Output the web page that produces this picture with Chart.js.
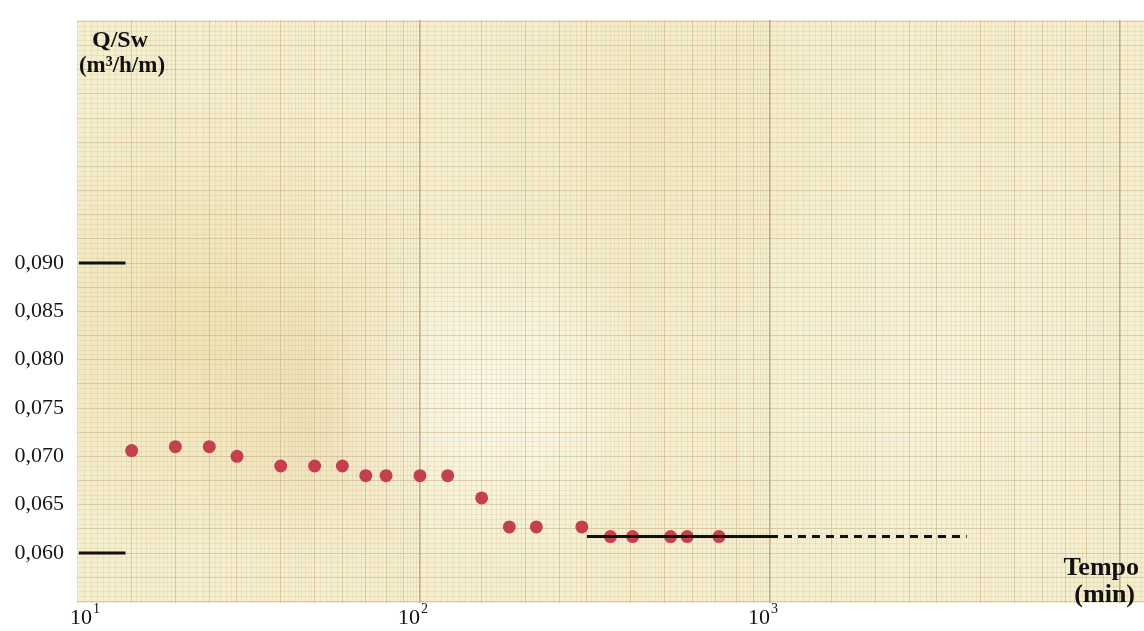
<!DOCTYPE html>
<html lang="pt">
<head>
<meta charset="UTF-8">
<title>Q/Sw x Tempo</title>
<script src="https://cdn.jsdelivr.net/npm/chart.js"></script>
<style>
  html, body { margin: 0; padding: 0; background: #fff; overflow: hidden; }
  .wrap { width: 1144px; height: 631px; }
  canvas { display: block; }
</style>
</head>
<body>
<div class="wrap"><canvas id="grafico" width="1144" height="631"></canvas></div>
<script>
// tempo de bombeamento (min) e vazão específica Q/Sw (m³/h/m)
const tempo = [15, 20, 25, 30, 40, 50, 60, 70, 80, 100, 120, 150, 180, 215, 290, 350, 405, 520, 580, 715];
const vazaoEsp = [0.0706, 0.0710, 0.0710, 0.0700, 0.0690, 0.0690, 0.0690, 0.0680, 0.0680, 0.0680,
                  0.0680, 0.0657, 0.0627, 0.0627, 0.0627, 0.0617, 0.0617, 0.0617, 0.0617, 0.0617];

// reta de estabilização e prolongamento tracejado
const retaTempo = [300, 1000];
const extrapTempo = [1000, 3650];
const retaValor = 0.0617;

// traços de referência na escala vertical
const marcaTempo = [10.6, 14.4];
const marcaValores = [0.090, 0.060];

const yTicks = [0.060, 0.065, 0.070, 0.075, 0.080, 0.085, 0.090];
const xDecadas = [1, 2, 3];

const X_MIN = 10.47, X_MAX = 11715;
const Y_MIN = 0.05483, Y_MAX = 0.11514;

const SERIF = '"Liberation Serif", "Times New Roman", serif';

// linhas do papel monolog
function gradeLog() {
  const out = [];
  for (let e = 1; e <= 4; e++) {
    const base = Math.pow(10, e);
    let m = 100;
    while (m < 1000) {
      const v = base * m / 100;
      let kind = 'fine';
      if (m === 100) kind = 'decade';
      else if (m % 100 === 0 || (m < 300 && m % 50 === 0)) kind = 'mid';
      if (v >= X_MIN && v <= X_MAX) out.push({ value: v, kind });
      m += m < 200 ? 5 : (m < 500 ? 10 : 20);
    }
  }
  return out;
}

function gradeLin() {
  const out = [];
  for (let k = 110; k <= 230; k++) {
    const v = k * 0.0005;
    if (v < Y_MIN || v > Y_MAX) continue;
    out.push({ value: v, kind: k % 5 === 0 ? 'mid' : 'fine' });
  }
  return out;
}

const corGrade = { fine: 'rgba(200,176,128,0.2)', mid: 'rgba(190,160,112,0.45)', decade: 'rgba(175,140,100,0.7)' };
const larguraGrade = { fine: 1, mid: 1, decade: 1.6 };

// sem folgas extras das escalas: a área do gráfico fica onde o layout manda
function semFolga(s) {
  s.paddingTop = 0; s.paddingBottom = 0; s.paddingLeft = 0; s.paddingRight = 0;
}

const papel = {
  id: 'papel',
  beforeDraw(chart) {
    const { ctx, chartArea: a } = chart;
    ctx.save();
    ctx.fillStyle = '#ffffff';
    ctx.fillRect(0, 0, chart.width, chart.height);
    ctx.fillStyle = '#f5efd0';
    ctx.fillRect(a.left, a.top, a.right - a.left, a.bottom - a.top);
    ctx.beginPath();
    ctx.rect(a.left, a.top, a.right - a.left, a.bottom - a.top);
    ctx.clip();
    const manchas = [
      [200, 320, 240, 'rgba(234,214,150,0.5)'],
      [330, 420, 160, 'rgba(230,204,156,0.3)'],
      [490, 400, 170, 'rgba(253,251,240,0.75)'],
      [660, 140, 210, 'rgba(236,218,165,0.3)'],
      [960, 380, 260, 'rgba(251,247,230,0.45)']
    ];
    manchas.forEach(([x, y, r, c]) => {
      const g = ctx.createRadialGradient(x, y, 0, x, y, r);
      g.addColorStop(0, c);
      g.addColorStop(1, c.replace(/[\d.]+\)$/, '0)'));
      ctx.fillStyle = g;
      ctx.fillRect(x - r, y - r, 2 * r, 2 * r);
    });
    ctx.restore();
  },
  afterDraw(chart) {
    const { ctx } = chart;
    const xs = chart.scales.x;
    ctx.save();
    ctx.fillStyle = '#111';
    ctx.textBaseline = 'alphabetic';

    ctx.textAlign = 'center';
    ctx.font = 'bold 24px ' + SERIF;
    ctx.fillText('Q/Sw', 120, 47);
    ctx.font = 'bold 23px ' + SERIF;
    ctx.fillText('(m³/h/m)', 122, 72);

    ctx.textAlign = 'right';
    ctx.font = 'bold 26px ' + SERIF;
    ctx.fillText('Tempo', 1139, 575);
    ctx.fillText('(min)', 1135, 602);

    // rótulos das décadas 10¹, 10², 10³
    xDecadas.forEach((e, i) => {
      const px = xs.getPixelForValue(Math.pow(10, e));
      ctx.font = '22px ' + SERIF;
      const w = ctx.measureText('10').width;
      const left = i === 0 ? px : px - w;
      ctx.textAlign = 'left';
      ctx.fillText('10', left, 624);
      ctx.font = '14px ' + SERIF;
      ctx.fillText(String(e), left + w + 1, 613);
    });
    ctx.restore();
  }
};

const pontos = tempo.map((t, i) => ({ x: t, y: vazaoEsp[i] }));

new Chart(document.getElementById('grafico'), {
  type: 'scatter',
  data: {
    datasets: [
      {
        data: retaTempo.map(t => ({ x: t, y: retaValor })),
        showLine: true, borderColor: '#111', borderWidth: 3, pointRadius: 0, order: 0
      },
      {
        data: extrapTempo.map(t => ({ x: t, y: retaValor })),
        showLine: true, borderColor: '#111', borderWidth: 3, borderDash: [8, 6], pointRadius: 0, order: 0
      },
      ...marcaValores.map(v => ({
        data: marcaTempo.map(t => ({ x: t, y: v })),
        showLine: true, borderColor: '#111', borderWidth: 3, pointRadius: 0, order: 0
      })),
      {
        data: pontos,
        backgroundColor: '#c5404f', borderWidth: 0, pointRadius: 6.5, order: 1
      }
    ]
  },
  options: {
    responsive: false,
    animation: false,
    devicePixelRatio: 1,
    layout: { autoPadding: false, padding: { top: 20, bottom: 28, left: 0, right: 0 } },
    plugins: { legend: { display: false }, tooltip: { enabled: false } },
    scales: {
      x: {
        type: 'logarithmic',
        min: X_MIN, max: X_MAX,
        border: { display: false },
        ticks: { display: false, autoSkip: false },
        grid: {
          drawTicks: false,
          color: c => corGrade[c.tick && c.tick.kind] || corGrade.fine,
          lineWidth: c => larguraGrade[c.tick && c.tick.kind] || 1
        },
        afterBuildTicks: s => { s.ticks = gradeLog(); },
        afterFit: s => { s.height = 0; semFolga(s); }
      },
      y: {
        position: 'left',
        min: Y_MIN, max: Y_MAX,
        border: { display: false },
        grid: { display: false, drawTicks: false },
        ticks: {
          autoSkip: false,
          padding: 13,
          color: '#161616',
          font: { family: SERIF, size: 22 },
          callback: v => v.toFixed(3).replace('.', ',')
        },
        afterBuildTicks: s => { s.ticks = yTicks.map(v => ({ value: v })); },
        afterFit: s => { s.width = 77; semFolga(s); }
      },
      yg: {
        position: 'right',
        min: Y_MIN, max: Y_MAX,
        border: { display: false },
        ticks: { display: false, autoSkip: false },
        grid: {
          drawTicks: false,
          color: c => corGrade[c.tick && c.tick.kind] || corGrade.fine,
          lineWidth: 1
        },
        afterBuildTicks: s => { s.ticks = gradeLin(); },
        afterFit: s => { s.width = 0; semFolga(s); }
      }
    }
  },
  plugins: [papel]
});
</script>
</body>
</html>
